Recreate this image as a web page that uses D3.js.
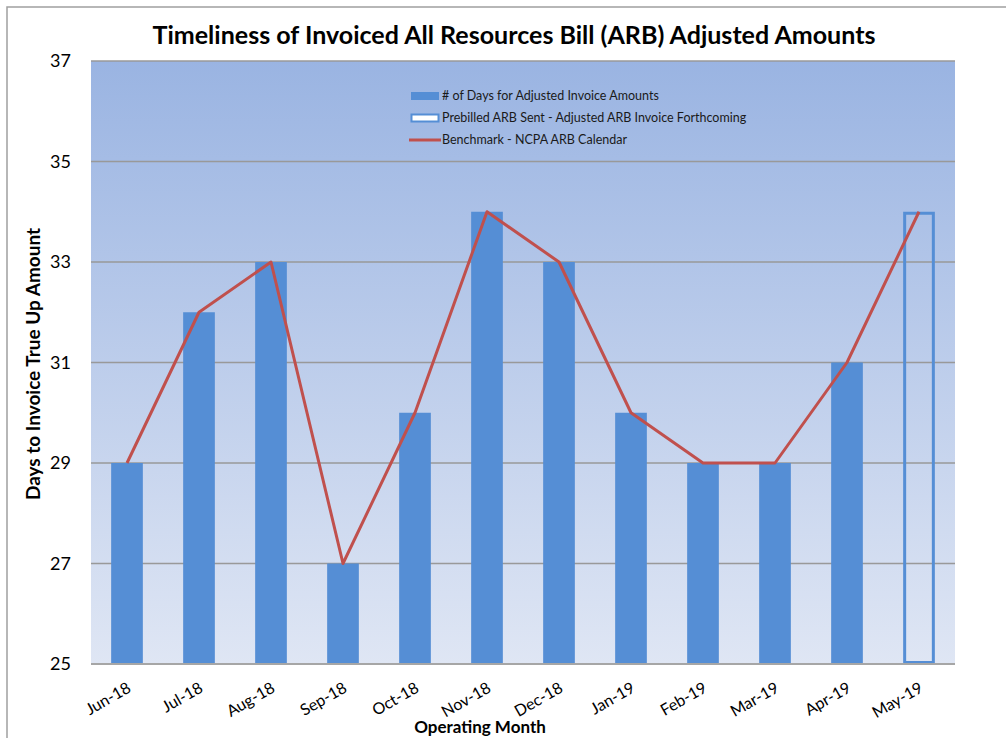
<!DOCTYPE html>
<html><head><meta charset="utf-8">
<script src="https://cdn.jsdelivr.net/npm/d3@7/dist/d3.min.js"></script>
<style>body{margin:0;background:#fff}svg{display:block}</style>
</head><body>
<svg id="c" width="1006" height="738"></svg>
<script>
const months = ["Jun-18","Jul-18","Aug-18","Sep-18","Oct-18","Nov-18","Dec-18","Jan-19","Feb-19","Mar-19","Apr-19","May-19"];
const daysAdjusted = [29,32,33,27,30,34,33,30,29,29,31,null];
const prebilled = [null,null,null,null,null,null,null,null,null,null,null,34];
const benchmark = [29,32,33,27,30,34,33,30,29,29,31,34];
const yTicks = [25,27,29,31,33,35,37];
const legendLabels = ["# of Days for Adjusted Invoice Amounts","Prebilled ARB Sent - Adjusted ARB Invoice Forthcoming","Benchmark - NCPA ARB Calendar"];

const svg = d3.select("#c");
const L = 91, R = 955, T = 61, B = 664;
const x = d3.scaleBand().domain(months).range([L, R]).paddingInner(0.56).paddingOuter(0.28);
const y = d3.scaleLinear().domain([25, 37]).range([B, T]);

// frame
svg.append("path").attr("d","M7,738V7H1006").attr("fill","none").attr("stroke","#a0a0a0").attr("stroke-width",1.5);

const defs = svg.append("defs");
const g = defs.append("linearGradient").attr("id","bg").attr("x1",0).attr("y1",0).attr("x2",0).attr("y2",1);
g.append("stop").attr("offset","0%").attr("stop-color","#9ab4e2");
g.append("stop").attr("offset","100%").attr("stop-color","#dfe6f4");
svg.append("rect").attr("x",L).attr("y",T).attr("width",R-L).attr("height",B-T).attr("fill","url(#bg)");

// gridlines
svg.append("g").selectAll("line").data(yTicks.slice(1)).join("line")
  .attr("x1",L).attr("x2",R).attr("y1",d=>y(d)).attr("y2",d=>y(d))
  .attr("stroke","#999").attr("stroke-width",1.5);

// bars
svg.append("g").selectAll("rect").data(months.map((m,i)=>({m,v:daysAdjusted[i]})).filter(d=>d.v!=null)).join("rect")
  .attr("x",d=>x(d.m)).attr("width",x.bandwidth()).attr("y",d=>y(d.v)).attr("height",d=>B-y(d.v)).attr("fill","#558ed5");
svg.append("g").selectAll("rect").data(months.map((m,i)=>({m,v:prebilled[i]})).filter(d=>d.v!=null)).join("rect")
  .attr("x",d=>x(d.m)+1.5).attr("width",x.bandwidth()-3).attr("y",d=>y(d.v)+1.5).attr("height",d=>B-y(d.v)-3)
  .attr("fill","none").attr("stroke","#558ed5").attr("stroke-width",3);

// axis line
svg.append("line").attr("x1",L).attr("x2",R).attr("y1",B).attr("y2",B).attr("stroke","#a6a6a6").attr("stroke-width",2);

// benchmark line
const line = d3.line().x((d,i)=>x(months[i])+x.bandwidth()/2).y(d=>y(d));
svg.append("path").datum(benchmark).attr("d",line).attr("fill","none").attr("stroke","#c0504d").attr("stroke-width",3).attr("stroke-linejoin","round");

// y ticks
svg.append("g").selectAll("text").data(yTicks).join("text")
  .attr("x",71).attr("y",d=>y(d)+6).attr("text-anchor","end")
  .attr("font-family","Lato, sans-serif").attr("font-size",18).attr("fill","#000").text(d=>d);

// x ticks
svg.append("g").selectAll("text").data(months).join("text")
  .attr("transform",d=>`translate(${x(d)+x.bandwidth()/2+5},${691}) rotate(-30)`)
  .attr("text-anchor","end").attr("font-family","Lato, sans-serif").attr("font-size",16).attr("fill","#000").text(d=>d);

// titles
svg.append("text").attr("x",514).attr("y",44).attr("text-anchor","middle")
  .attr("font-family","Lato, sans-serif").attr("font-weight","bold").attr("font-size",24).attr("textLength",723).attr("lengthAdjust","spacingAndGlyphs")
  .text("Timeliness of Invoiced All Resources Bill (ARB) Adjusted Amounts");
svg.append("text").attr("transform","translate(40,364) rotate(-90)").attr("text-anchor","middle")
  .attr("font-family","Lato, sans-serif").attr("font-weight","bold").attr("font-size",18).attr("textLength",272).attr("lengthAdjust","spacingAndGlyphs")
  .text("Days to Invoice True Up Amount");
svg.append("text").attr("x",480).attr("y",733).attr("text-anchor","middle")
  .attr("font-family","Lato, sans-serif").attr("font-weight","bold").attr("font-size",17)
  .text("Operating Month");

// legend
const lg = svg.append("g");
const ly = [96,118,140];
lg.append("rect").attr("x",411).attr("y",ly[0]-4).attr("width",28).attr("height",8).attr("fill","#558ed5");
lg.append("rect").attr("x",411.5).attr("y",ly[1]-3.5).attr("width",27).attr("height",7).attr("fill","#fff").attr("stroke","#558ed5").attr("stroke-width",2);
lg.append("line").attr("x1",409).attr("x2",441).attr("y1",ly[2]).attr("y2",ly[2]).attr("stroke","#c0504d").attr("stroke-width",3);
lg.selectAll("text").data(legendLabels).join("text").attr("x",442).attr("y",(d,i)=>ly[i]+4)
  .attr("font-family","Lato, sans-serif").attr("font-size",12.5).attr("fill","#1a1a1a").text(d=>d);
</script>
</body></html>
